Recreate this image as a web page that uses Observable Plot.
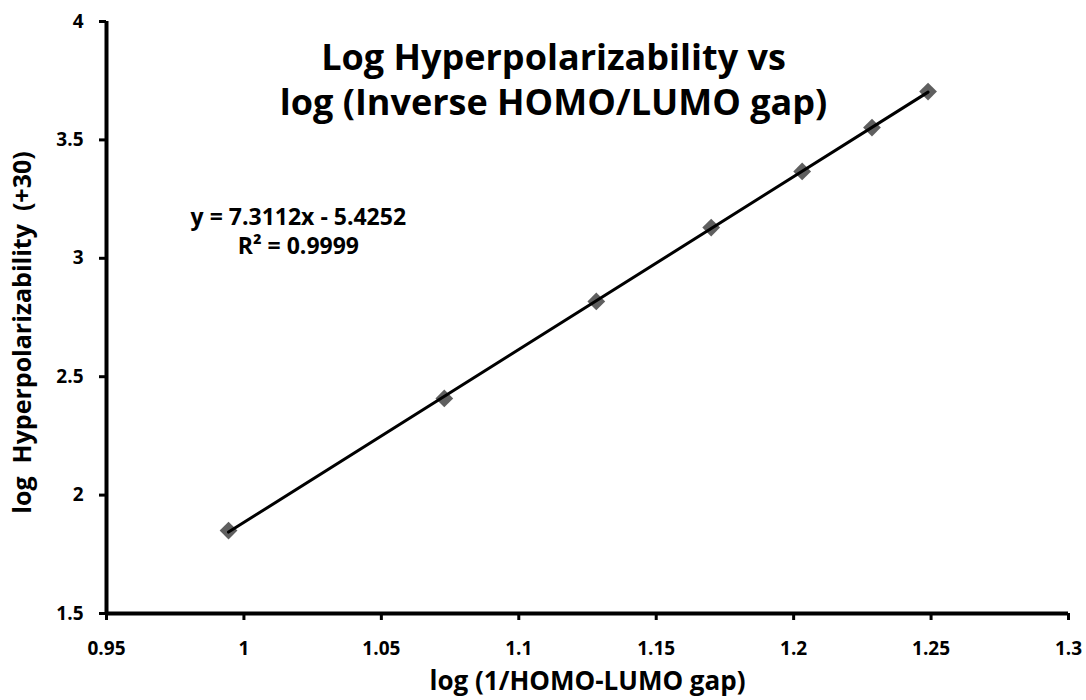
<!DOCTYPE html>
<html>
<head>
<meta charset="utf-8">
<script src="https://cdn.jsdelivr.net/npm/d3@7"></script>
<script src="https://cdn.jsdelivr.net/npm/@observablehq/plot@0.6"></script>
<style>
  html, body { margin: 0; padding: 0; background: #fff; }
  #chart { position: relative; width: 1086px; height: 700px; }
</style>
</head>
<body>
<div id="chart"></div>
<script>
// Data
const xValues = [0.9944, 1.0729, 1.1282, 1.1700, 1.2031, 1.2285, 1.2489];
const yValues = [1.850, 2.408, 2.818, 3.130, 3.367, 3.552, 3.704];
const xTicks = [0.95, 1, 1.05, 1.1, 1.15, 1.2, 1.25, 1.3];
const yTicks = [1.5, 2, 2.5, 3, 3.5, 4];
const titleLines = ["Log Hyperpolarizability vs", "log (Inverse HOMO/LUMO gap)"];
const xLabel = "log (1/HOMO-LUMO gap)";
const yLabel = "log  Hyperpolarizability  (+30)";
const equationText = ["y = 7.3112x - 5.4252", "R\u00B2 = 0.9999"];
const equationAnchor = [{x: 1.0198, y: 3.172}, {x: 1.0198, y: 3.050}];

const points = xValues.map((x, i) => ({x, y: yValues[i]}));
const eqRows = equationText.map((t, i) => ({t, ...equationAnchor[i]}));
const FONT = "'Open Sans', Lato, sans-serif";

const plot = Plot.plot({
  width: 1086,
  height: 700,
  marginLeft: 106,
  marginRight: 18,
  marginTop: 21,
  marginBottom: 87,
  style: {fontFamily: FONT, background: "#fff"},
  x: {domain: [0.95, 1.3]},
  y: {domain: [1.5, 4]},
  marks: [
    Plot.dot(points, {x: "x", y: "y", symbol: "diamond2", r: 8, fill: "#5f5f5f", stroke: "none"}),
    Plot.linearRegressionY(points, {x: "x", y: "y", stroke: "#000", strokeWidth: 3, ci: 0}),
    Plot.axisX({ticks: xTicks, tickSize: 7, tickPadding: 21, strokeWidth: 3, fontSize: 19, fontWeight: "bold", fill: "#000", tickFormat: d => String(d), label: null}),
    Plot.axisY({ticks: yTicks, tickSize: 7, tickPadding: 16, strokeWidth: 3, fontSize: 19, fontWeight: "bold", fill: "#000", tickFormat: d => String(d), label: null}),
    Plot.ruleY([1.5], {stroke: "#000", strokeWidth: 4}),
    Plot.ruleX([0.95], {stroke: "#000", strokeWidth: 4}),
    Plot.text(eqRows, {x: "x", y: "y", text: "t", fontSize: 23, fontWeight: "bold", fill: "#000"}),
    Plot.text([titleLines[0]], {frameAnchor: "top", dx: -34, dy: 23, fontSize: 36, fontWeight: "bold", fill: "#000"}),
    Plot.text([titleLines[1]], {frameAnchor: "top", dx: -34, dy: 68, fontSize: 36, fontWeight: "bold", fill: "#000"}),
    Plot.text([xLabel], {frameAnchor: "bottom", dx: 0, dy: 76, fontSize: 26, fontWeight: "bold", fill: "#000"}),
    Plot.text([yLabel], {frameAnchor: "left", textAnchor: "middle", dx: -84, dy: 15, rotate: -90, fontSize: 25, fontWeight: "bold", fill: "#000"})
  ]
});
document.getElementById("chart").appendChild(plot);
</script>
</body>
</html>
